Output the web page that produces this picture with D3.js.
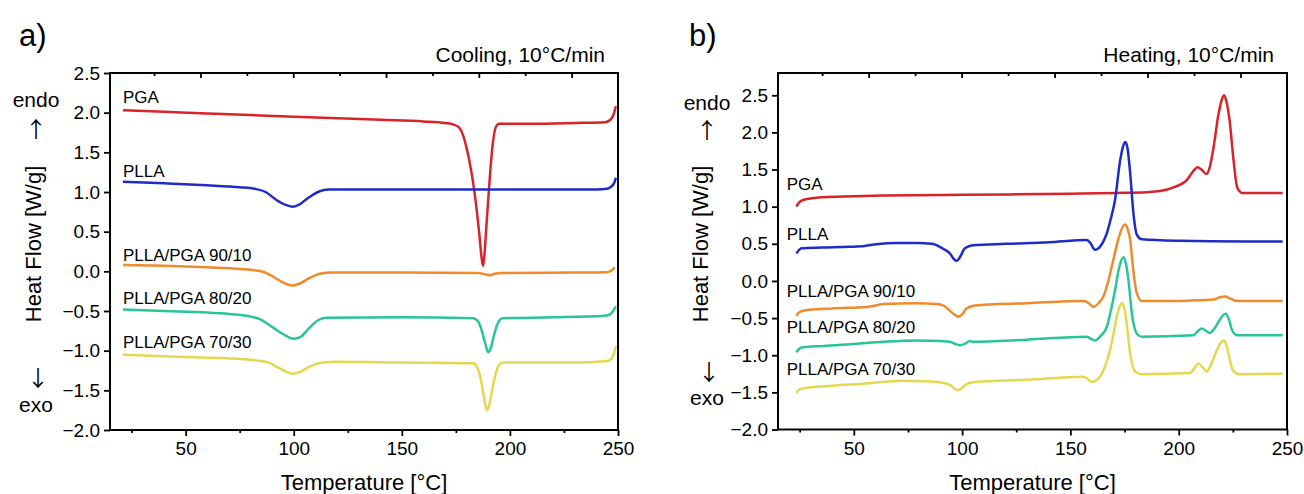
<!DOCTYPE html>
<html>
<head>
<meta charset="utf-8">
<script src="https://cdn.jsdelivr.net/npm/d3@7"></script>
<style>
  body { margin: 0; background: #fff; }
  text { fill: #000; }
</style>
</head>
<body>
<script>
// series names and colours (same order in both panels)
var seriesNames = ["PGA", "PLLA", "PLLA/PGA 90/10", "PLLA/PGA 80/20", "PLLA/PGA 70/30"];
var seriesColors = ["#d9232b", "#1f2bc6", "#ef8a2d", "#29c598", "#e3d84f"];

// x axis ticks (temperature, °C)
var tempDomain = [15, 250];
var xMajor = [50, 100, 150, 200, 250];
var xMinor = [25, 75, 125, 175, 225];
var yTicks = [-2.0, -1.5, -1.0, -0.5, 0.0, 0.5, 1.0, 1.5, 2.0, 2.5];
// top axis ticks run on their own scale
var topMajor = [1, 3, 5, 7, 9];
var topMinor = [2, 4, 6, 8, 10];

// ---- a) cooling, 10°C/min : [temperature, heat flow W/g] ----
var coolPGA = [[21,2.03],[40,2.01],[60,1.99],[80,1.97],[100,1.95],[120,1.93],[140,1.91],[160,1.89],[170,1.87],[174,1.85],[176.6,1.81],[178.5,1.70],[180,1.55],[181.2,1.40],[183.5,1.02],[185.8,0.48],[187,0.15],[187.6,0.07],[188.2,0.2],[188.9,0.48],[190.4,1.07],[191.9,1.57],[193.5,1.82],[195,1.86],[210,1.86],[230,1.87],[244,1.88],[246.5,1.91],[248,1.98],[249,2.08]];
var coolPLLA = [[21,1.13],[40,1.11],[60,1.085],[75,1.06],[82,1.04],[87,1.0],[92,0.9],[96,0.84],[99.5,0.815],[102.5,0.84],[105,0.89],[108,0.95],[112,1.01],[116,1.03],[150,1.03],[200,1.03],[240,1.03],[245,1.04],[247,1.07],[248.5,1.13],[249,1.18]];
var cool9010 = [[21,0.08],[40,0.07],[60,0.05],[75,0.03],[85,0.0],[90,-0.06],[95,-0.14],[99.5,-0.18],[103,-0.15],[107,-0.09],[112,-0.03],[118,-0.015],[150,-0.015],[185,-0.02],[189,-0.04],[191,-0.05],[193,-0.03],[196,-0.02],[230,-0.015],[245,-0.01],[247,0.01],[248.5,0.05]];
var cool8020 = [[21,-0.48],[40,-0.50],[60,-0.52],[72,-0.54],[80,-0.57],[84,-0.60],[90,-0.70],[95,-0.79],[100,-0.85],[103,-0.83],[107,-0.72],[111,-0.62],[115,-0.585],[150,-0.58],[183,-0.59],[185.5,-0.64],[187,-0.75],[188.5,-0.90],[190,-1.02],[191,-0.98],[192.3,-0.84],[194.3,-0.66],[196.6,-0.59],[220,-0.58],[244,-0.56],[246.5,-0.54],[248,-0.49],[249,-0.44]];
var cool7030 = [[21,-1.05],[40,-1.07],[60,-1.09],[72,-1.10],[87,-1.14],[92,-1.20],[96,-1.26],[99.3,-1.29],[102.7,-1.27],[107.3,-1.20],[113.5,-1.15],[120,-1.14],[150,-1.15],[183,-1.16],[185,-1.22],[186.6,-1.37],[188.1,-1.60],[189.3,-1.75],[190.3,-1.70],[191.2,-1.58],[192.7,-1.37],[195,-1.18],[197,-1.15],[230,-1.15],[245,-1.13],[247,-1.10],[248.2,-1.03],[249,-0.94]];

// ---- b) heating, 10°C/min ----
var heatPGA = [[23.5,1.0],[24.5,1.05],[26.6,1.09],[32.7,1.12],[50,1.14],[63.5,1.15],[100,1.16],[150,1.175],[171,1.185],[185,1.195],[191.4,1.21],[197.6,1.26],[203.8,1.36],[206.5,1.47],[208.7,1.53],[210.5,1.50],[212.7,1.44],[214.5,1.55],[216.1,1.80],[218.4,2.25],[220,2.45],[221,2.50],[222,2.42],[223.5,2.16],[225.3,1.63],[226.9,1.27],[228,1.21],[229.2,1.185],[248,1.185]];
var heatPLLA = [[23.5,0.37],[24.5,0.41],[25.8,0.44],[35,0.45],[48,0.46],[55,0.47],[60.5,0.495],[70,0.51],[79,0.51],[86,0.50],[89.7,0.46],[92,0.42],[94.4,0.37],[96,0.30],[97.5,0.27],[99,0.32],[101.3,0.44],[105,0.48],[120,0.50],[140,0.52],[157.5,0.55],[159,0.52],[161.4,0.42],[163,0.44],[165,0.52],[166.8,0.64],[168.5,0.82],[170.6,1.09],[173,1.63],[174.4,1.82],[175.4,1.87],[176.4,1.78],[177.6,1.45],[179.1,0.91],[180.7,0.62],[183,0.56],[200,0.54],[230,0.53],[248,0.53]];
var heat9010 = [[23.5,-0.47],[24.5,-0.43],[26.6,-0.40],[40,-0.37],[56,-0.35],[60,-0.33],[63.5,-0.31],[79,-0.30],[88,-0.31],[91.3,-0.33],[95.1,-0.42],[98.2,-0.48],[100,-0.45],[102,-0.37],[105.9,-0.33],[130,-0.30],[156,-0.27],[158.5,-0.30],[160.6,-0.35],[163,-0.30],[165.2,-0.21],[167.5,0.0],[169.8,0.28],[172,0.55],[174,0.72],[175.2,0.76],[176.4,0.70],[177.6,0.55],[179,0.15],[180.7,-0.17],[183,-0.27],[200,-0.27],[210,-0.26],[216,-0.25],[219,-0.22],[221.5,-0.21],[224,-0.24],[227,-0.27],[248,-0.27]];
var heat8020 = [[23.5,-0.96],[24.5,-0.92],[25.8,-0.895],[32.7,-0.88],[50,-0.85],[63.5,-0.82],[79,-0.80],[90,-0.81],[94.4,-0.82],[97,-0.85],[99,-0.865],[101,-0.85],[103.6,-0.81],[105,-0.82],[130,-0.79],[157.5,-0.75],[159.5,-0.78],[161.4,-0.80],[164,-0.74],[166.8,-0.62],[168.5,-0.42],[170.6,-0.125],[172.5,0.18],[174.5,0.32],[175.7,0.22],[176.8,0.01],[178.4,-0.44],[180.7,-0.71],[183,-0.75],[206.8,-0.73],[209,-0.67],[210.7,-0.64],[212.5,-0.67],[214.2,-0.70],[216.5,-0.64],[218.4,-0.55],[220.5,-0.46],[221.8,-0.44],[223.2,-0.52],[224.6,-0.66],[226.9,-0.73],[248,-0.73]];
var heat7030 = [[23.5,-1.51],[24.5,-1.47],[25.8,-1.45],[40,-1.41],[51,-1.39],[63.5,-1.36],[72.6,-1.345],[82,-1.35],[88.2,-1.36],[94.4,-1.40],[96.5,-1.45],[98.2,-1.47],[100,-1.44],[102,-1.39],[105.9,-1.36],[130,-1.33],[156,-1.29],[158,-1.32],[159.9,-1.36],[161.8,-1.34],[163.7,-1.29],[166,-1.15],[168.3,-0.93],[170,-0.70],[171.4,-0.48],[172.8,-0.34],[174,-0.30],[175,-0.38],[176,-0.57],[177.6,-0.98],[179.9,-1.22],[183,-1.255],[205.3,-1.24],[207.3,-1.17],[209.1,-1.11],[211,-1.16],[213,-1.22],[215,-1.12],[216.9,-0.98],[218.8,-0.86],[220.7,-0.80],[222,-0.86],[223,-0.98],[225,-1.20],[227.6,-1.255],[248,-1.245]];

var font = "Arial, 'Liberation Sans', Helvetica, sans-serif";
var arrowFont = "'Noto Sans CJK SC', 'DejaVu Sans', sans-serif";

var svg = d3.select("body").append("svg")
    .attr("width", 1304)
    .attr("height", 494)
    .style("font-family", font);

var panels = [
    {
        letter: "a)", letterX: 19,
        title: "Cooling, 10°C/min",
        left: 110, right: 618, top: 73, bottom: 430,
        yDomain: [-2.0, 2.5],
        series: [coolPGA, coolPLLA, cool9010, cool8020, cool7030],
        labelT: 21,
        labelY: [2.12, 1.19, 0.13, -0.41, -0.97],
        sideX: 36, ylabelX: 41,
        endoY: 107, upY: 137, downY: 386, exoY: 412
    },
    {
        letter: "b)", letterX: 689,
        title: "Heating, 10°C/min",
        left: 778, right: 1287, top: 73, bottom: 429.5,
        yDomain: [-2.0, 2.8],
        series: [heatPGA, heatPLLA, heat9010, heat8020, heat7030],
        labelT: 19,
        labelY: [1.22, 0.55, -0.21, -0.70, -1.27],
        sideX: 707, ylabelX: 708,
        endoY: 110, upY: 138, downY: 380, exoY: 405
    }
];

panels.forEach(drawPanel);

function drawPanel(p) {
    var x = d3.scaleLinear().domain(tempDomain).range([p.left, p.right]);
    var y = d3.scaleLinear().domain(p.yDomain).range([p.bottom, p.top]);
    var xTop = d3.scaleLinear().domain([0, 10.95]).range([p.right, p.left]);
    var g = svg.append("g");

    var line = d3.line()
        .x(function (d) { return x(d[0]); })
        .y(function (d) { return y(d[1]); })
        .curve(d3.curveMonotoneX);

    // curves
    g.selectAll(".curve")
        .data(p.series)
        .enter()
        .append("path")
        .attr("class", "curve")
        .attr("d", line)
        .attr("fill", "none")
        .attr("stroke", function (d, i) { return seriesColors[i]; })
        .attr("stroke-width", 2.5)
        .attr("stroke-linejoin", "round");

    // series labels
    g.selectAll(".lbl")
        .data(seriesNames)
        .enter()
        .append("text")
        .attr("class", "lbl")
        .attr("x", x(p.labelT))
        .attr("y", function (d, i) { return y(p.labelY[i]); })
        .attr("font-size", 17)
        .text(function (d) { return d; });

    // bottom axis
    var bx = g.append("g")
        .attr("transform", "translate(0," + p.bottom + ")")
        .call(d3.axisBottom(x).tickValues(xMajor).tickSize(6).tickPadding(6).tickFormat(d3.format("d")));
    var bxm = g.append("g")
        .attr("transform", "translate(0," + p.bottom + ")")
        .call(d3.axisBottom(x).tickValues(xMinor).tickSize(3).tickFormat(""));

    // left axis
    var ly = g.append("g")
        .attr("transform", "translate(" + p.left + ",0)")
        .call(d3.axisLeft(y).tickValues(yTicks).tickSize(6).tickPadding(4).tickFormat(d3.format(".1f")));

    // top axis, ticks pointing inward
    var tx = g.append("g")
        .attr("transform", "translate(0," + p.top + ")")
        .call(d3.axisBottom(xTop).tickValues(topMajor).tickSize(5).tickFormat(""));
    var txm = g.append("g")
        .attr("transform", "translate(0," + p.top + ")")
        .call(d3.axisBottom(xTop).tickValues(topMinor).tickSize(3).tickFormat(""));

    [bx, bxm, ly, tx, txm].forEach(function (a) {
        a.select(".domain").remove();
        a.attr("font-family", font).attr("font-size", 19);
        a.selectAll(".tick line").attr("stroke", "#000").attr("stroke-width", 1.8);
        a.selectAll(".tick text").attr("fill", "#000");
    });

    // frame
    g.append("rect")
        .attr("x", p.left)
        .attr("y", p.top)
        .attr("width", p.right - p.left)
        .attr("height", p.bottom - p.top)
        .attr("fill", "none")
        .attr("stroke", "#000")
        .attr("stroke-width", 2);

    // axis titles
    g.append("text")
        .attr("x", (p.left + p.right) / 2)
        .attr("y", 490)
        .attr("text-anchor", "middle")
        .attr("font-size", 22)
        .text("Temperature [°C]");

    g.append("text")
        .attr("transform", "translate(" + p.ylabelX + ",244) rotate(-90)")
        .attr("text-anchor", "middle")
        .attr("font-size", 22)
        .text("Heat Flow [W/g]");

    // endo / exo hints
    g.append("text").attr("x", p.sideX).attr("y", p.endoY)
        .attr("text-anchor", "middle").attr("font-size", 21).text("endo");
    g.append("text").attr("x", p.sideX).attr("y", p.upY)
        .attr("text-anchor", "middle").attr("font-size", 22)
        .attr("font-family", arrowFont).text("↑");
    g.append("text").attr("x", p.sideX + 2).attr("y", p.downY)
        .attr("text-anchor", "middle").attr("font-size", 22)
        .attr("font-family", arrowFont).text("↓");
    g.append("text").attr("x", p.sideX).attr("y", p.exoY)
        .attr("text-anchor", "middle").attr("font-size", 21).text("exo");

    // panel title and letter
    g.append("text")
        .attr("x", p.right - 13)
        .attr("y", 62)
        .attr("text-anchor", "end")
        .attr("font-size", 21)
        .text(p.title);

    g.append("text")
        .attr("x", p.letterX)
        .attr("y", 46)
        .attr("font-size", 31)
        .text(p.letter);
}
</script>
</body>
</html>
